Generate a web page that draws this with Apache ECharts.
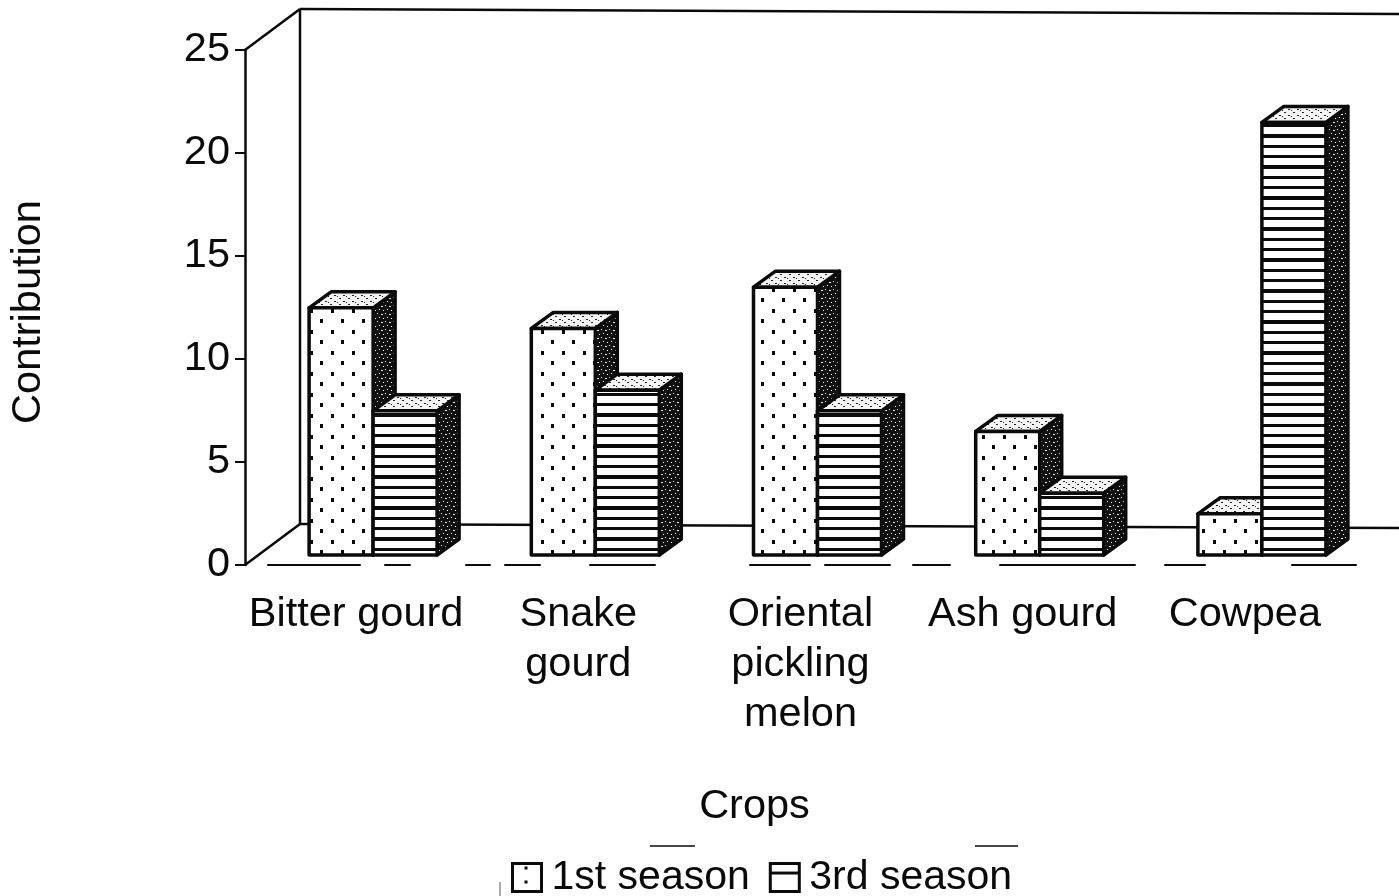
<!DOCTYPE html>
<html>
<head>
<meta charset="utf-8">
<title>Contribution by crop</title>
<script src="https://cdn.jsdelivr.net/npm/echarts@6/dist/echarts.min.js"></script>
<style>
  html, body { margin: 0; padding: 0; background: #fff; }
  #main { width: 1399px; height: 896px; }
</style>
</head>
<body>
<div id="main"></div>
<script>
const categories = ['Bitter gourd', 'Snake\ngourd', 'Oriental\npickling\nmelon', 'Ash gourd', 'Cowpea']
const firstSeason = [12, 11, 13, 6, 2]
const thirdSeason = [7, 8, 7, 3, 21]
const yTicks = { min: 0, max: 25, interval: 5 }

const FONT = '"Liberation Sans", Arial, sans-serif'
const INK = '#0a0a0a'
const BAR_W = 64
// 3d 偏移
const DEPTH_X = 22
const DEPTH_Y = 16
const WALL_X = 55
const WALL_Y = 41
const FLOOR_X = 17
const FLOOR_Y = 10

// 填充图案
function tile(w, h, bg, fg, pts) {
  const c = document.createElement('canvas')
  c.width = w
  c.height = h
  const ctx = c.getContext('2d')
  ctx.fillStyle = bg
  ctx.fillRect(0, 0, w, h)
  ctx.fillStyle = fg
  pts.forEach(p => ctx.fillRect(p[0], p[1], p[2], p[3]))
  return { image: c, repeat: 'repeat' }
}
const dots = tile(21, 21, '#fff', INK, [[5, 4, 3, 4], [16, 15, 3, 4]])
const stripes = tile(8, 31, '#fff', INK, [[0, 0, 8, 3], [0, 10, 8, 4], [0, 21, 8, 3]])
const topDots = tile(9, 6, '#f4f4f4', '#222', [[1, 1, 2, 1], [6, 4, 2, 1], [4, 2, 1, 1]])
const sideDark = tile(8, 8, '#111', '#eee', [[1, 1, 1, 1], [5, 2, 2, 1], [3, 5, 1, 1], [7, 6, 1, 1]])
const legendDots = tile(29, 14, '#fff', INK, [[12, 3, 3, 3]])
const legendStripes = tile(8, 28, '#fff', INK, [[0, 8, 8, 3]])

// 一根立体柱子：正面、顶面、侧面
function barItem(offset, pattern) {
  return (params, api) => {
    const base = api.coord([api.value(0), 0])
    const top = api.coord([api.value(0), api.value(1)])
    const x0 = base[0] + FLOOR_X + offset
    const x1 = x0 + BAR_W
    const y0 = base[1] - FLOOR_Y
    const y1 = top[1] - FLOOR_Y
    const line = { stroke: INK, lineWidth: 3.5, lineJoin: 'round' }
    return {
      type: 'group',
      children: [
        {
          type: 'polygon',
          shape: { points: [[x1, y1], [x1 + DEPTH_X, y1 - DEPTH_Y], [x1 + DEPTH_X, y0 - DEPTH_Y], [x1, y0]] },
          style: { fill: sideDark, ...line }
        },
        {
          type: 'polygon',
          shape: { points: [[x0, y1], [x0 + DEPTH_X, y1 - DEPTH_Y], [x1 + DEPTH_X, y1 - DEPTH_Y], [x1, y1]] },
          style: { fill: topDots, ...line }
        },
        {
          type: 'rect',
          shape: { x: x0, y: y1, width: BAR_W, height: y0 - y1 },
          style: { fill: pattern, ...line }
        }
      ]
    }
  }
}

// 背景墙和地面
function wallItem(params, api) {
  const sys = params.coordSys
  const low = api.coord([0, yTicks.min])[1]
  const high = api.coord([0, yTicks.max])[1]
  const left = sys.x
  const right = sys.x + sys.width + WALL_X
  const style = { stroke: INK, lineWidth: 2.5, fill: 'none' }
  const seg = (a, b, c, d) => ({ type: 'line', shape: { x1: a, y1: b, x2: c, y2: d }, style })
  return {
    type: 'group',
    children: [
      seg(left, high, left + WALL_X, high - WALL_Y),
      seg(left, low, left + WALL_X, low - WALL_Y),
      seg(left + WALL_X, high - WALL_Y, left + WALL_X, low - WALL_Y),
      seg(left + WALL_X, high - WALL_Y, right, high - WALL_Y + 5),
      seg(left + WALL_X, low - WALL_Y, right, low - WALL_Y + 4)
    ]
  }
}

const chart = echarts.init(document.getElementById('main'), null, { renderer: 'canvas' })
const textStyle = { fontFamily: FONT, fontSize: 41.5, color: INK }

const option = {
  backgroundColor: '#fff',
  animation: false,
  textStyle,
  grid: { left: 245, top: 50, width: 1111, height: 515, containLabel: false },
  legend: {
    left: 511,
    top: 857,
    orient: 'horizontal',
    itemWidth: 29,
    itemHeight: 28,
    itemGap: 19,
    padding: 0,
    selectedMode: false,
    textStyle: { ...textStyle, fontSize: 41, padding: [4, 0, 0, 5] },
    data: [
      { name: '1st season', icon: 'rect', itemStyle: { color: legendDots, borderColor: INK, borderWidth: 3 } },
      { name: '3rd season', icon: 'rect', itemStyle: { color: legendStripes, borderColor: INK, borderWidth: 3 } }
    ]
  },
  xAxis: {
    type: 'category',
    data: categories,
    name: 'Crops',
    nameLocation: 'middle',
    nameGap: 221,
    nameTextStyle: { ...textStyle, padding: [0, 92, 0, 0] },
    axisTick: { show: false },
    axisLine: {
      show: true,
      lineStyle: {
        color: INK,
        width: 2,
        // 扫描件里的断线
        type: [0, 23, 92, 25, 25, 56, 24, 15, 35, 50, 65, 95, 60, 15, 65, 23, 37, 50, 135, 30, 40, 87, 63]
      }
    },
    axisLabel: { ...textStyle, interval: 0, margin: 25, lineHeight: 50 }
  },
  yAxis: {
    type: 'value',
    min: yTicks.min,
    max: yTicks.max,
    interval: yTicks.interval,
    name: 'Contribution',
    nameLocation: 'middle',
    nameGap: 195,
    nameTextStyle: { ...textStyle, padding: [0, 9, 0, 0] },
    splitLine: { show: false },
    axisLine: { show: true, lineStyle: { color: INK, width: 2.5 } },
    axisTick: { show: true, length: 10, lineStyle: { color: INK, width: 2 } },
    axisLabel: { ...textStyle, margin: 15 }
  },
  graphic: [
    { type: 'line', shape: { x1: 650, y1: 846, x2: 695, y2: 846 }, style: { stroke: INK, lineWidth: 1.5 } },
    { type: 'line', shape: { x1: 975, y1: 846, x2: 1018, y2: 846 }, style: { stroke: INK, lineWidth: 1.5 } },
    { type: 'line', shape: { x1: 500, y1: 882, x2: 500, y2: 896 }, style: { stroke: '#555', lineWidth: 1 } }
  ],
  series: [
    {
      type: 'custom',
      name: 'walls',
      silent: true,
      z: 1,
      renderItem: wallItem,
      data: [[0, 0]],
      encode: { x: 0, y: 1 }
    },
    {
      type: 'custom',
      name: '1st season',
      z: 2,
      renderItem: barItem(-BAR_W, dots),
      itemStyle: { color: '#fff' },
      data: firstSeason.map((v, i) => [i, v]),
      encode: { x: 0, y: 1 }
    },
    {
      type: 'custom',
      name: '3rd season',
      z: 3,
      renderItem: barItem(0, stripes),
      itemStyle: { color: '#fff' },
      data: thirdSeason.map((v, i) => [i, v]),
      encode: { x: 0, y: 1 }
    }
  ]
}
chart.setOption(option)
</script>
</body>
</html>
